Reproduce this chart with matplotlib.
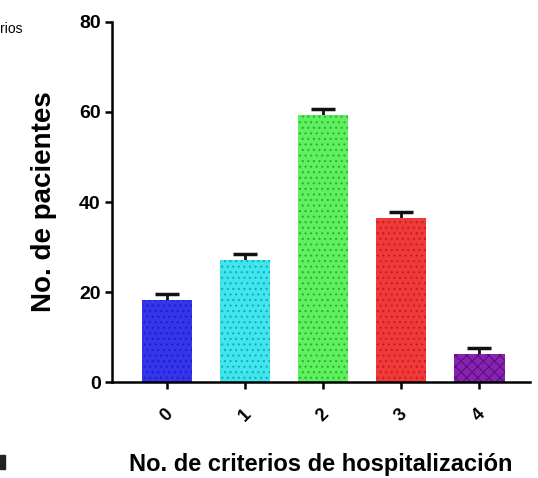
import matplotlib
matplotlib.use('Agg')
import matplotlib.pyplot as plt
from matplotlib.patches import Rectangle
import numpy as np

# number of hospitalisation criteria and patient counts
categorias = ['0', '1', '2', '3', '4']
pacientes = [18.2, 27.1, 59.3, 36.4, 6.2]
error = [1.4, 1.3, 1.4, 1.4, 1.4]
colores = ['#3535ee', '#3fe6ee', '#5ef05e', '#f03a3a', '#8a22b0']
tramas = ['#2020b0', '#1fa8b0', '#30b030', '#c02020', '#5a1080']

plt.rcParams['font.family'] = ['Liberation Sans', 'DejaVu Sans']
plt.rcParams['hatch.linewidth'] = 0.8

fig = plt.figure(figsize=(5.38, 4.78), dpi=100)
ax = fig.add_axes([0.208, 0.2008, 0.777, 0.7532])

x = np.arange(len(categorias))
# error bars sit behind the bars so only the upper half shows
ax.errorbar(x, pacientes, yerr=error, fmt='none',
            ecolor='#111111', elinewidth=2, capsize=8.5, capthick=2.5, zorder=1)
bars = ax.bar(x, pacientes, width=0.65, color=colores, linewidth=0, zorder=2)
for b, c in zip(bars, tramas):
    b.set_hatch('...')
    b.set_edgecolor(c)
bars[-1].set_hatch('xxx')

ax.set_xlim(-0.705, 4.65)
ax.set_ylim(0, 80)
ax.set_yticks([0, 20, 40, 60, 80])
ax.set_xticks(x)
ax.set_xticklabels(categorias, rotation=45, fontsize=13, fontweight='bold')
for lab in ax.get_yticklabels():
    lab.set_fontsize(14)
    lab.set_fontweight('bold')

for s in ['top', 'right']:
    ax.spines[s].set_visible(False)
for s in ['left', 'bottom']:
    ax.spines[s].set_linewidth(1.8)
ax.tick_params(axis='both', width=1.8, length=5, pad=3)
ax.tick_params(axis='x', pad=12)

ax.set_ylabel('No. de pacientes', fontsize=20, fontweight='bold', labelpad=16)
ax.set_xlabel('No. de criterios de hospitalización', fontsize=17, fontweight='bold', labelpad=20)

fig.text(0.0, 0.93, 'rios', fontsize=10)
fig.patches.append(Rectangle((0.0, 0.018 + 0.0), 0.009, 0.03,
                             transform=fig.transFigure, color='#222222', zorder=5))

fig.savefig('out.png', dpi=100)
